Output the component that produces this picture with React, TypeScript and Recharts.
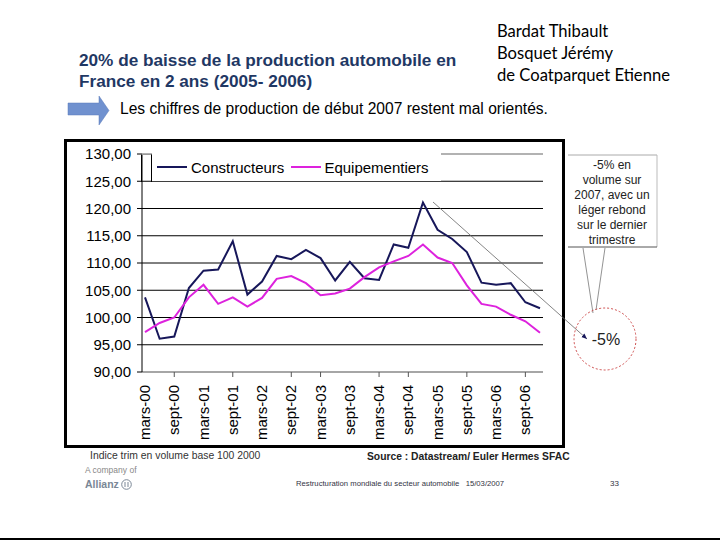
import React from 'react';
import { LineChart, Line, XAxis, YAxis, CartesianGrid, ReferenceLine } from 'recharts';

const navy = '#17175a';
const magenta = '#dd22dd';
const titleBlue = '#1f3864';
const arial = '"Liberation Sans", Arial, sans-serif';

// Quarterly index, base 100 in 2000
const quarters = [
  'mars-00', 'juin-00', 'sept-00', 'déc-00',
  'mars-01', 'juin-01', 'sept-01', 'déc-01',
  'mars-02', 'juin-02', 'sept-02', 'déc-02',
  'mars-03', 'juin-03', 'sept-03', 'déc-03',
  'mars-04', 'juin-04', 'sept-04', 'déc-04',
  'mars-05', 'juin-05', 'sept-05', 'déc-05',
  'mars-06', 'juin-06', 'sept-06', 'déc-06',
];
const constructeurs = [
  103.7, 96.1, 96.5, 105.4, 108.6, 108.8, 114.0, 104.2, 106.6, 111.3, 110.7, 112.4, 110.9, 106.8,
  110.2, 107.2, 106.9, 113.4, 112.8, 121.1, 116.1, 114.4, 112.0, 106.4, 106.0, 106.3, 102.8, 101.7,
];
const equipementiers = [
  97.3, 99.0, 100.0, 103.7, 106.0, 102.5, 103.7, 102.0, 103.6, 107.1, 107.6, 106.3, 104.1, 104.4,
  105.3, 107.4, 109.2, 110.3, 111.3, 113.4, 111.0, 110.0, 105.9, 102.5, 102.0, 100.5, 99.3, 97.2,
];
const yTicks = [90, 95, 100, 105, 110, 115, 120, 125, 130];
const gridValues = [95, 100, 105, 110, 115, 120, 125];
const tickMarks = ['sept-00', 'sept-01', 'sept-02', 'mars-03', 'mars-04', 'sept-04', 'sept-05', 'sept-06'];

const data = quarters.map((q, i) => ({
  q,
  Constructeurs: constructeurs[i],
  Equipementiers: equipementiers[i],
}));

const QuarterTick = (props: any) => {
  const { x, y, payload } = props;
  const ax = x + 5;
  const ay = y + 13;
  return (
    <g>
      {tickMarks.includes(payload.value) && (
        <line x1={x} y1={y} x2={x} y2={y + 5} stroke="#555" />
      )}
      <text
        x={ax}
        y={ay}
        transform={`rotate(-90 ${ax} ${ay})`}
        textAnchor="end"
        fontSize={15}
        fontFamily={arial}
        fill="#000"
      >
        {payload.value}
      </text>
    </g>
  );
};

const abs = (left: number, top: number, extra: React.CSSProperties = {}): React.CSSProperties => ({
  position: 'absolute',
  left,
  top,
  whiteSpace: 'nowrap',
  ...extra,
});

const App = () => {
  return (
    <div
      style={{
        position: 'absolute',
        left: 0,
        top: 0,
        width: 720,
        height: 540,
        background: '#fff',
        overflow: 'hidden',
        fontFamily: arial,
      }}
    >
      {/* Title */}
      <div style={abs(79, 50, { fontSize: 17.2, fontWeight: 700, color: titleBlue, lineHeight: '21px' })}>
        20% de baisse de la production automobile en
        <br />
        France en 2 ans (2005- 2006)
      </div>

      {/* Authors */}
      <div style={abs(497, 20, { fontFamily: 'Lato, sans-serif', fontSize: 16.6, lineHeight: '22px', color: '#000' })}>
        Bardat Thibault
        <br />
        Bosquet Jérémy
        <br />
        de Coatparquet Etienne
      </div>

      {/* Arrow + subtitle */}
      <svg style={abs(0, 0)} width={720} height={540}>
        <polygon points="68,103 99,103 99,96 109,110.5 99,125 99,115 68,115" fill="#7091cf" stroke="#5a7ab8" strokeWidth={0.5} />
      </svg>
      <div style={abs(120, 100, { fontSize: 15.6, color: '#000' })}>
        Les chiffres de production de début 2007 restent mal orientés.
      </div>

      {/* Chart frame */}
      <div
        style={abs(64, 139, {
          width: 501,
          height: 309,
          border: '3px solid #000',
          boxSizing: 'border-box',
        })}
      />
      <div style={abs(67, 142)}>
        <LineChart width={495} height={303} data={data} margin={{ top: 12, right: 19, left: 0, bottom: 0 }}>
          <CartesianGrid horizontal vertical={false} horizontalValues={gridValues} stroke="#000" strokeWidth={1} />
          <XAxis
            dataKey="q"
            interval={1}
            height={73}
            padding={{ left: 3, right: 3 }}
            tickSize={0}
            tickMargin={0}
            tickLine={false}
            axisLine={{ stroke: '#888', strokeWidth: 1.5 }}
            tick={<QuarterTick />}
          />
          <YAxis
            domain={[90, 130]}
            ticks={yTicks}
            width={75}
            tickSize={5}
            tickMargin={6}
            tickLine={{ stroke: '#000' }}
            axisLine={{ stroke: '#000' }}
            tick={{ fontSize: 15, fill: '#000', fontFamily: arial }}
            tickFormatter={(v: number) => v.toFixed(2).replace('.', ',')}
          />
          <YAxis
            yAxisId="frame"
            orientation="right"
            domain={[90, 130]}
            width={0}
            tick={false}
            tickLine={false}
            axisLine={{ stroke: '#999', strokeWidth: 1.5 }}
          />
          <ReferenceLine y={130} stroke="#999" strokeWidth={1.5} />
          <Line type="linear" dataKey="Constructeurs" stroke={navy} strokeWidth={2} dot={false} isAnimationActive={false} />
          <Line type="linear" dataKey="Equipementiers" stroke={magenta} strokeWidth={2} dot={false} isAnimationActive={false} />
        </LineChart>
      </div>

      {/* Legend */}
      <div style={abs(152, 150, { width: 289, height: 31, background: '#fff' })} />
      <div
        style={abs(141, 154, {
          width: 11,
          height: 28,
          borderTop: '1.5px solid #999',
          borderLeft: '1px solid #000',
          borderRight: '1px solid #000',
          boxSizing: 'border-box',
        })}
      />
      <div style={abs(157, 157, { display: 'flex', alignItems: 'center', fontSize: 15, color: '#000', height: 20 })}>
        <span style={{ display: 'inline-block', width: 30, height: 2, background: navy }} />
        <span style={{ marginLeft: 4 }}>Constructeurs</span>
        <span style={{ display: 'inline-block', width: 30, height: 2, background: magenta, marginLeft: 7 }} />
        <span style={{ marginLeft: 3 }}>Equipementiers</span>
      </div>

      {/* Annotation */}
      <svg style={abs(0, 0)} width={720} height={540}>
        <defs>
          <marker id="ah" markerWidth={8} markerHeight={8} refX={7} refY={4} orient="auto">
            <path d="M0,1 L7,4 L0,7 z" fill={navy} />
          </marker>
        </defs>
        <line x1={433} y1={202} x2={587} y2={339} stroke="#666" strokeWidth={0.8} markerEnd="url(#ah)" />
        <line x1={568} y1={155} x2={657} y2={155} stroke="#aaa" strokeWidth={1} />
        <line x1={657} y1={155} x2={657} y2={247} stroke="#bbb" strokeWidth={1} />
        <line x1={568} y1={247} x2={657} y2={247} stroke="#555" strokeWidth={1} />
        <line x1={583} y1={248} x2={593} y2={313} stroke="#777" strokeWidth={0.8} />
        <line x1={605} y1={248} x2={596} y2={310} stroke="#777" strokeWidth={0.8} />
        <circle cx={605} cy={339} r={31} fill="none" stroke="#c83c3c" strokeWidth={0.9} strokeDasharray="2 2" />
        <text x={606} y={345} textAnchor="middle" fontSize={16} fontFamily={arial} fill="#222">-5%</text>
        {['-5% en', 'volume sur', '2007, avec un', 'léger rebond', 'sur le dernier', 'trimestre'].map((t, i) => (
          <text key={t} x={612} y={169 + i * 15} textAnchor="middle" fontSize={12} fontFamily={arial} fill="#222">
            {t}
          </text>
        ))}
      </svg>

      {/* Footer */}
      <div style={abs(90, 450, { fontSize: 10.4, color: '#333' })}>Indice trim en volume base 100 2000</div>
      <div style={abs(367, 451, { fontSize: 10.3, fontWeight: 700, color: '#222' })}>
        Source : Datastream/ Euler Hermes SFAC
      </div>
      <div style={abs(85, 465, { fontSize: 8.5, color: '#888' })}>A company of</div>
      <div style={abs(85, 478, { fontSize: 10.5, fontWeight: 700, color: '#7a8796', display: 'flex', alignItems: 'center' })}>
        Allianz
        <svg width={11} height={11} style={{ marginLeft: 2 }}>
          <circle cx={5.5} cy={5.5} r={4.8} fill="none" stroke="#7a8796" strokeWidth={1} />
          <line x1={4} y1={3} x2={4} y2={8} stroke="#7a8796" strokeWidth={1} />
          <line x1={7} y1={3} x2={7} y2={8} stroke="#7a8796" strokeWidth={1} />
        </svg>
      </div>
      <div style={abs(296, 479, { fontSize: 7.7, color: '#334' })}>
        Restructuration mondiale du secteur automobile&nbsp;&nbsp;&nbsp;15/03/2007
      </div>
      <div style={abs(610, 479, { fontSize: 8, color: '#334' })}>33</div>

      <div style={abs(0, 538, { width: 720, height: 2, background: '#000' })} />
    </div>
  );
};

export default App;
